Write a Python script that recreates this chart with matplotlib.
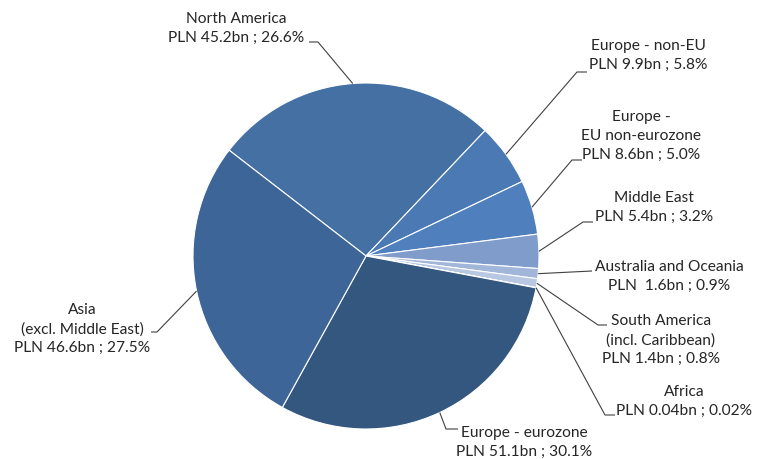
import numpy as np
import matplotlib.pyplot as plt

regions = ["North America", "Europe - non-EU", "Europe -\nEU non-eurozone",
           "Middle East", "Australia and Oceania", "South America\n(incl. Caribbean)",
           "Africa", "Europe - eurozone", "Asia\n(excl. Middle East)"]
value_bn = [45.2, 9.9, 8.6, 5.4, 1.6, 1.4, 0.04, 51.1, 46.6]
value_txt = ["45.2", "9.9", "8.6", "5.4", " 1.6", "1.4", "0.04", "51.1", "46.6"]
share_pct = ["26.6", "5.8", "5.0", "3.2", "0.9", "0.8", "0.02", "30.1", "27.5"]

colors = ["#4570a3", "#4a79b3", "#4f80bd", "#7f9ccb", "#a2b6da", "#b8c8e3",
          "#c9d5ea", "#34577f", "#3d6597"]

W, H = 760, 459
# label block centre, elbow point, end of horizontal tick (pixel coords, y down)
label_pos = [(236, 28), (648, 55), (641, 136), (654, 207), (669, 276),
             (661, 340), (684, 401), (524, 442), (82, 329)]
elbows = [[(318, 42), (309, 42)],
          [(577, 72), (587, 72)],
          [(572, 160), (582, 160)],
          [(583, 222), (593, 222)],
          [(592, 271)],
          [(598, 325), (607, 325)],
          [(605, 415), (615, 415)],
          [(446, 429), (458, 429)],
          [(157, 332), (151, 332)]]

cx, cy, r = 366, 256, 173

fig = plt.figure(figsize=(7.6, 4.59), dpi=100)
ax = fig.add_axes([0, 0, 1, 1])

wedges, _ = ax.pie(value_bn, colors=colors, startangle=142.3, counterclock=False,
                   center=(cx, H - cy), radius=r,
                   wedgeprops=dict(edgecolor="white", linewidth=0.8))
ax.set_xlim(0, W)
ax.set_ylim(0, H)
ax.set_aspect("equal")
ax.axis("off")

font = dict(family=["Lato", "DejaVu Sans"], fontsize=11.2, color="#262626")
for w, name, v, p, (lx, ly), pts in zip(wedges, regions, value_txt, share_pct,
                                        label_pos, elbows):
    mid = np.deg2rad((w.theta1 + w.theta2) / 2)
    ex = cx + r * np.cos(mid)
    ey = H - cy + r * np.sin(mid)
    xs = [ex] + [x for x, _ in pts]
    ys = [ey] + [H - y for _, y in pts]
    ax.plot(xs, ys, color="#404040", lw=0.8, solid_capstyle="butt")
    ax.text(lx, H - ly, f"{name}\nPLN {v}bn ; {p}%", ha="center", va="center",
            linespacing=1.45, **font)

fig.savefig("out.png", dpi=100)
